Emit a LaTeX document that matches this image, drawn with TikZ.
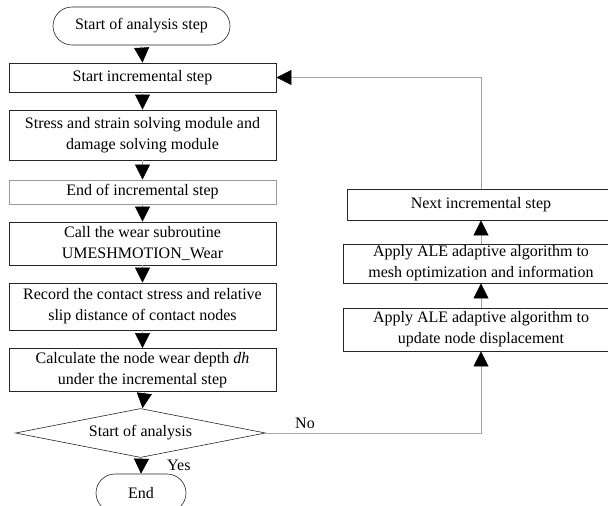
\documentclass[tikz,border=0pt]{standalone}
\usepackage{fontspec}
\setmainfont{Liberation Serif}
\usetikzlibrary{arrows.meta,shapes.geometric}

\begin{document}
\begin{tikzpicture}[x=1pt,y=-1pt,
  txt/.style={font=\fontsize{16}{21}\selectfont, align=center, inner sep=0pt},
  box/.style={txt, draw=black!85, line width=0.8pt, rectangle},
  lightbox/.style={txt, draw=black!40, line width=0.8pt, rectangle},
  terminal/.style={txt, draw=black!85, line width=0.6pt, rectangle, rounded corners=19pt},
  decision/.style={txt, draw=black!85, line width=0.6pt, diamond, shape aspect=5},
  conn/.style={draw=black!35, line width=0.6pt, -{Triangle[length=15pt,width=15pt,color=black]}},
  lbl/.style={font=\fontsize{16}{19}\selectfont, inner sep=0pt}
]
\useasboundingbox (0,0) rectangle (608,506);

% main column
\node[terminal, minimum width=177pt, minimum height=38pt] (start) at (141.5,26) {Start of analysis step};
\node[box, minimum width=267pt, minimum height=29pt] (inc) at (142.5,77.5) {Start incremental step};
\node[box, minimum width=267pt, minimum height=50pt] (stress) at (142.5,135) {Stress and strain solving module and\\damage solving module};
\node[lightbox, minimum width=267pt, minimum height=24pt] (endinc) at (142.5,192) {End of incremental step};
\node[box, minimum width=267pt, minimum height=43pt] (call) at (142.5,243.5) {Call the wear subroutine\\UMESHMOTION\_Wear};
\node[box, minimum width=267pt, minimum height=47pt] (rec) at (142.5,306.5) {Record the contact stress and relative\\slip distance of contact nodes};
\node[box, minimum width=267pt, minimum height=43pt] (calc) at (142.5,370) {Calculate the node wear depth \textit{dh}\\under the incremental step};
\node[decision, minimum width=250pt, minimum height=49pt] (dec) at (140.5,433) {Start of analysis};
\node[terminal, minimum width=90pt, minimum height=38pt] (end) at (141,493) {End};

% ALE column
\node[box, minimum width=268pt, minimum height=31pt] (next) at (481,204.5) {Next incremental step};
\node[box, minimum width=276pt, minimum height=39pt] (mesh) at (481,263.5) {Apply ALE adaptive algorithm to\\mesh optimization and information};
\node[box, minimum width=276pt, minimum height=43pt] (upd) at (481,329.5) {Apply ALE adaptive algorithm to\\update node displacement};

% main flow
\draw[conn] (start.south) -- (inc.north);
\draw[conn] (inc.south) -- (stress.north);
\draw[conn] (stress.south) -- (endinc.north);
\draw[conn] (endinc.south) -- (call.north);
\draw[conn] (call.south) -- (rec.north);
\draw[conn] (rec.south) -- (calc.north);
\draw[conn] ([xshift=2pt]calc.south) -- ([xshift=2pt]dec.north);
\draw[conn] ([xshift=1pt]dec.south) -- (end.north);

% loop back through the ALE steps
\coordinate (turn) at (481,433);
\draw[conn] (dec.east) -- (turn) -- (upd.south);
\draw[conn] (upd.north) -- (mesh.south);
\draw[conn] (mesh.north) -- (next.south);
\draw[conn] (next.north) |- (inc.east);

% branch labels
\node[lbl, anchor=west] (yes) at (167,465) {Yes};
\node[lbl, anchor=west] (no) at (295,423) {No};
\end{tikzpicture}
\end{document}
